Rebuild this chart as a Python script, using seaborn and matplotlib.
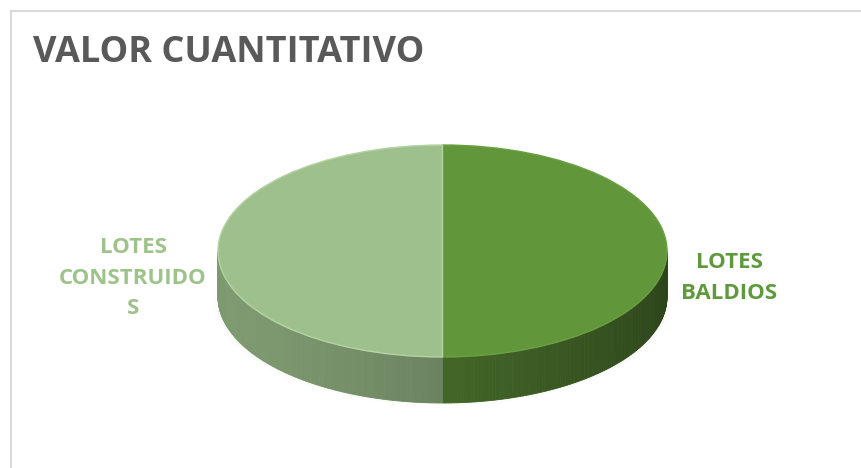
import numpy as np
import matplotlib
matplotlib.use("Agg")
import matplotlib.pyplot as plt
import seaborn as sns
from matplotlib.patches import Ellipse, Rectangle
from matplotlib.colors import to_rgb

# datos del grafico
categorias = ["LOTES BALDIOS", "LOTES CONSTRUIDOS"]
valores = [50, 50]
etiquetas = ["LOTES\nBALDIOS", "LOTES\nCONSTRUIDO\nS"]
colores = ["#62963A", "#9DC08C"]
color_texto = ["#5E9A3B", "#9DC38B"]
titulo = "VALOR CUANTITATIVO"

sns.set_theme(style="white")
plt.rcParams['font.family'] = ['Open Sans', 'DejaVu Sans']

W, H = 861, 468
fig = plt.figure(figsize=(W / 100, H / 100), dpi=100)
ax = fig.add_axes([0, 0, 1, 1])

# geometria en pixeles del disco
cx, cy, rx, ry, grosor = 442.5, 251, 224.5, 106, 46
d = grosor / ry

# sombra suave
for i in range(10):
    ax.add_patch(Ellipse((0.0, -d - 0.04), 2.03 - i * 0.02, 1.97 - i * 0.03,
                         facecolor="#808080", edgecolor="none", alpha=0.022, zorder=1))

wedges, textos = ax.pie(valores, startangle=90, counterclock=False, colors=colores,
                        wedgeprops=dict(linewidth=1.0, zorder=4))
wedges[0].set_edgecolor("#6aa043")
wedges[1].set_edgecolor("#b3d4a2")

# lados del disco (parte frontal visible)
for w, col in zip(wedges, colores):
    base = np.array(to_rgb(col))
    t = np.linspace(w.theta1, w.theta2, 240)
    t = t[np.sin(np.radians(t)) <= 0.001]
    for a, b in zip(t[:-1], t[1:]):
        k = 0.62 + 0.18 * np.cos(np.radians((a + b) / 2 - 200))
        c = np.clip(base * k, 0, 1)
        xs = [np.cos(np.radians(a)), np.cos(np.radians(b)), np.cos(np.radians(b)), np.cos(np.radians(a))]
        ys = [np.sin(np.radians(a)), np.sin(np.radians(b)), np.sin(np.radians(b)) - d, np.sin(np.radians(a)) - d]
        ax.fill(xs, ys, color=c, lw=0.6, zorder=3)

ax.set_aspect('auto')
ax.set_xlim(-cx / rx, (W - cx) / rx)
ax.set_ylim(-(H - cy) / ry, cy / ry)
ax.axis('off')

# etiquetas
def px(x, y):
    return ((x - cx) / rx, (cy - y) / ry)

ax.text(*px(729, 278), etiquetas[0], ha="center", va="center", fontsize=16,
        fontweight="bold", color=color_texto[0], linespacing=1.6)
ax.text(*px(133, 278), etiquetas[1], ha="center", va="center", fontsize=16,
        fontweight="bold", color=color_texto[1], linespacing=1.6)

fig.text(33 / W, 1 - 53 / H, titulo, ha="left", va="center", fontsize=26,
         fontweight="bold", color="#595959")

fig.patches.append(Rectangle((11 / W, -0.05), 1.0, 1 - 11 / H + 0.05, transform=fig.transFigure,
                             fill=False, edgecolor="#d9d9d9", lw=1.5))

fig.savefig("out.png", dpi=100)
